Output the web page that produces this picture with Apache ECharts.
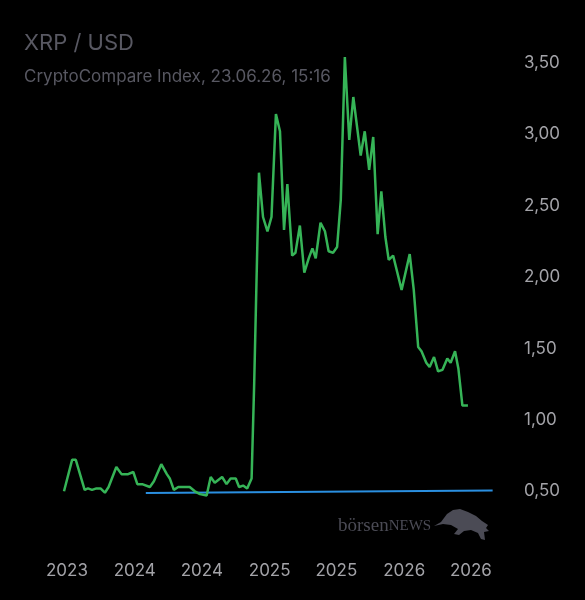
<!DOCTYPE html>
<html>
<head>
<meta charset="utf-8">
<script src="https://cdn.jsdelivr.net/npm/echarts@6/dist/echarts.min.js"></script>
<style>
  html, body { margin: 0; padding: 0; background: #000; }
  #chart { width: 585px; height: 600px; }
</style>
</head>
<body>
<div id="chart"></div>
<script>
// Kursdaten XRP/USD
var priceDates = [
    '2023-06-23', '2023-07-15', '2023-07-25', '2023-08-18', '2023-08-27', '2023-09-07',
    '2023-09-19', '2023-09-30', '2023-10-12', '2023-10-22', '2023-11-12', '2023-11-26',
    '2023-12-14', '2023-12-28', '2024-01-08', '2024-01-21', '2024-02-11', '2024-02-22',
    '2024-03-13', '2024-03-28', '2024-04-05', '2024-04-16', '2024-04-28', '2024-05-29',
    '2024-06-12', '2024-06-26', '2024-07-14', '2024-07-25', '2024-08-05', '2024-08-25',
    '2024-09-06', '2024-09-17', '2024-10-01', '2024-10-10', '2024-10-21', '2024-11-01',
    '2024-11-13', '2024-11-20', '2024-12-03', '2024-12-14', '2024-12-26', '2025-01-06',
    '2025-01-18', '2025-01-29', '2025-02-09', '2025-02-18', '2025-03-03', '2025-03-12',
    '2025-03-24', '2025-04-05', '2025-04-17', '2025-04-27', '2025-05-06', '2025-05-19',
    '2025-05-31', '2025-06-10', '2025-06-22', '2025-07-03', '2025-07-13', '2025-07-24',
    '2025-08-05', '2025-08-16', '2025-09-05', '2025-09-16', '2025-09-28', '2025-10-09',
    '2025-10-21', '2025-10-31', '2025-11-11', '2025-11-20', '2025-12-02', '2025-12-25',
    '2026-01-16', '2026-01-27', '2026-02-08', '2026-02-17', '2026-03-02', '2026-03-11',
    '2026-03-23', '2026-04-03', '2026-04-15', '2026-04-28', '2026-05-07', '2026-05-19',
    '2026-05-28', '2026-06-08', '2026-06-23'
];
var priceValues = [
    0.50, 0.72, 0.72, 0.51, 0.52, 0.51,
    0.52, 0.52, 0.49, 0.53, 0.67, 0.62,
    0.62, 0.635, 0.55, 0.55, 0.53, 0.57,
    0.69, 0.62, 0.59, 0.51, 0.53, 0.53,
    0.50, 0.48, 0.47, 0.60, 0.56, 0.60,
    0.55, 0.59, 0.59, 0.53, 0.54, 0.52,
    0.59, 1.25, 2.73, 2.42, 2.32, 2.42,
    3.14, 3.02, 2.33, 2.65, 2.15, 2.17,
    2.36, 2.03, 2.13, 2.20, 2.13, 2.38,
    2.32, 2.18, 2.17, 2.21, 2.54, 3.54,
    2.96, 3.26, 2.85, 3.02, 2.75, 2.98,
    2.30, 2.60, 2.28, 2.12, 2.15, 1.91,
    2.16, 1.91, 1.51, 1.48, 1.40, 1.37,
    1.44, 1.34, 1.35, 1.43, 1.40, 1.48,
    1.36, 1.10, 1.10
];
// Trendlinie
var trendDates = ['2024-01-31', '2026-08-29'];
var trendValues = [0.488, 0.505];
// Achsenbeschriftungen
var xTickDates = ['2023-07-01', '2024-01-01', '2024-07-01', '2025-01-01', '2025-07-01', '2026-01-01', '2026-07-01'];
var yTicks = [0.5, 1.0, 1.5, 2.0, 2.5, 3.0, 3.5];

function toTime(s) {
    var p = s.split('-');
    return new Date(+p[0], +p[1] - 1, +p[2]).getTime();
}
function pairs(dates, values) {
    return dates.map(function (d, i) { return [toTime(d), values[i]]; });
}

var myChart = echarts.init(document.getElementById('chart'));
var labelColor = '#a3a3a8';
var option = {
    backgroundColor: '#000',
    animation: false,
    title: {
        text: 'XRP / USD',
        subtext: 'CryptoCompare Index, 23.06.26, 15:16',
        left: 19,
        top: 27,
        itemGap: 14,
        textStyle: {
            color: '#585862',
            fontFamily: 'Inter',
            fontWeight: 'normal',
            fontSize: 22
        },
        subtextStyle: {
            color: '#585862',
            fontFamily: 'Inter',
            fontSize: 17
        }
    },
    grid: {
        left: 64,
        right: 92,
        top: 27,
        bottom: 73
    },
    xAxis: {
        type: 'value',
        min: toTime('2023-06-23'),
        max: toTime('2026-08-30'),
        axisLine: { show: false },
        axisTick: { show: false },
        splitLine: { show: false },
        axisLabel: {
            customValues: xTickDates.map(toTime),
            color: labelColor,
            fontFamily: 'Inter',
            fontSize: 17,
            margin: 35,
            formatter: function (v) {
                return String(new Date(v).getFullYear());
            }
        }
    },
    yAxis: {
        type: 'value',
        position: 'right',
        min: 0.25,
        max: 3.75,
        axisLine: { show: false },
        axisTick: { show: false },
        splitLine: { show: false },
        axisLabel: {
            customValues: yTicks,
            color: labelColor,
            fontFamily: 'Inter',
            fontSize: 17,
            margin: 31,
            formatter: function (v) {
                return v.toFixed(2).replace('.', ',');
            }
        }
    },
    graphic: [
        {
            type: 'text',
            left: 338,
            top: 517,
            style: {
                text: '{a|börsen}{b|NEWS}',
                rich: {
                    a: { fontFamily: 'Liberation Serif', fontSize: 19, fill: '#4b4b55' },
                    b: { fontFamily: 'Liberation Serif', fontSize: 15, fill: '#4b4b55' }
                }
            }
        },
        {
            type: 'polygon',
            shape: {
                points: [[434, 526], [441, 522], [447, 514], [453, 510], [460, 509], [468, 512],
                    [476, 516], [482, 521], [488, 525], [486, 528], [489, 531], [484, 532],
                    [485, 540], [481, 539], [478, 533], [471, 530], [464, 531], [459, 535],
                    [454, 534], [458, 529], [451, 525], [443, 524]]
            },
            style: { fill: '#4b4b55' }
        }
    ],
    series: [
        {
            name: 'Trend',
            type: 'line',
            data: pairs(trendDates, trendValues),
            symbol: 'none',
            lineStyle: { color: '#2a8fe0', width: 2 },
            z: 2
        },
        {
            name: 'XRP',
            type: 'line',
            data: pairs(priceDates, priceValues),
            symbol: 'none',
            lineStyle: { color: '#36b457', width: 2.5 },
            z: 3
        }
    ]
};
myChart.setOption(option);
</script>
</body>
</html>
